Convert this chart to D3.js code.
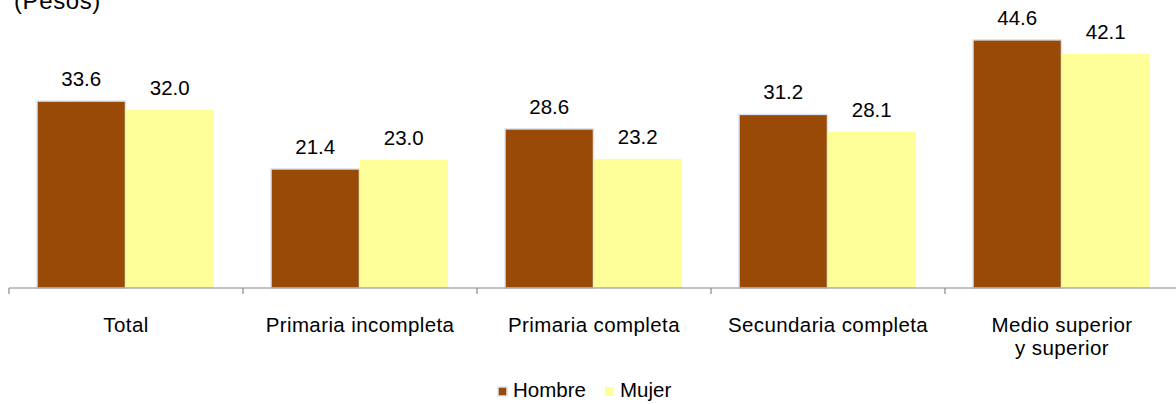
<!DOCTYPE html>
<html>
<head>
<meta charset="utf-8">
<script src="https://cdn.jsdelivr.net/npm/d3@7"></script>
<style>
  body { margin: 0; background: #fff; }
  svg { display: block; font-family: "Liberation Sans", Arial, sans-serif; }
</style>
</head>
<body>
<svg id="chart" width="1176" height="404"></svg>
<script>
const categories = ["Total", "Primaria incompleta", "Primaria completa", "Secundaria completa", "Medio superior\ny superior"];
const seriesNames = ["Hombre", "Mujer"];
const hombre = [33.6, 21.4, 28.6, 31.2, 44.6];
const mujer = [32.0, 23.0, 23.2, 28.1, 42.1];
const colors = ["#994a06", "#ffff99"];
const unitLabel = "(Pesos)";

const svg = d3.select("#chart");
const baseY = 288;
const fs = 20.5;
const x0 = d3.scaleBand().domain(categories).range([9, 1179]).paddingInner(0).paddingOuter(0);
const x1 = d3.scaleBand().domain(seriesNames).range([28, 205]).padding(0);
const y = d3.scaleLinear().domain([0, 50]).range([baseY, baseY - 278.2]);

const data = categories.map((c, i) => ({ cat: c, values: [
  { s: "Hombre", v: hombre[i] }, { s: "Mujer", v: mujer[i] } ] }));

// unit label
svg.append("text").attr("x", 14).attr("y", 9).attr("font-size", 24).attr("letter-spacing", 0.6)
  .attr("fill", "#000").text(unitLabel);

// bars
const g = svg.selectAll("g.cat").data(data).join("g").attr("class", "cat")
  .attr("transform", d => `translate(${x0(d.cat)},0)`);

g.selectAll("rect").data(d => d.values).join("rect")
  .attr("x", d => x1(d.s))
  .attr("y", d => y(d.v))
  .attr("width", x1.bandwidth())
  .attr("height", d => baseY - y(d.v))
  .attr("fill", (d, i) => colors[i])
  .attr("stroke", (d, i) => i === 0 ? "#dce4f2" : "none")
  .attr("stroke-width", 1.5);

g.selectAll("text.val").data(d => d.values).join("text").attr("class", "val")
  .attr("x", d => x1(d.s) + x1.bandwidth() / 2)
  .attr("y", d => y(d.v) - 15)
  .attr("text-anchor", "middle")
  .attr("font-size", fs)
  .attr("fill", "#000")
  .text(d => d.v.toFixed(1));

// axis
const axis = d3.axisBottom(x0).tickSize(0).tickFormat("");
const ax = svg.append("g").attr("transform", `translate(0,${baseY})`).call(axis);
ax.select(".domain").attr("stroke", "#888").attr("stroke-width", 1.2).attr("d", `M9,0H1179`);
ax.selectAll(".tick").remove();
// boundary ticks
const bounds = categories.map(c => x0(c)).concat([x0.range()[1]]);
ax.selectAll("line.b").data(bounds).join("line").attr("class", "b")
  .attr("x1", d => d).attr("x2", d => d).attr("y1", 0).attr("y2", 6)
  .attr("stroke", "#888").attr("stroke-width", 1.2);

// category labels
svg.selectAll("text.cat").data(categories).join("text").attr("class", "cat")
  .attr("text-anchor", "middle")
  .attr("font-size", fs)
  .attr("letter-spacing", 0.4)
  .attr("fill", "#000")
  .attr("transform", c => `translate(${x0(c) + x0.bandwidth() / 2},332)`)
  .each(function(c) {
    const lines = c.split("\n");
    d3.select(this).selectAll("tspan").data(lines).join("tspan")
      .attr("x", 0).attr("dy", (l, i) => i === 0 ? 0 : 23).text(l => l);
  });

// legend
const legend = svg.append("g");
const legItems = [{ name: "Hombre", x: 498 }, { name: "Mujer", x: 605 }];
legItems.forEach((it, i) => {
  legend.append("rect").attr("x", it.x).attr("y", 387).attr("width", 9).attr("height", 9)
    .attr("fill", colors[i]).attr("stroke", i === 0 ? "#dce4f2" : "none").attr("stroke-width", 1.5);
  legend.append("text").attr("x", it.x + 15).attr("y", 397).attr("font-size", fs).attr("fill", "#000").text(it.name);
});
</script>
</body>
</html>
